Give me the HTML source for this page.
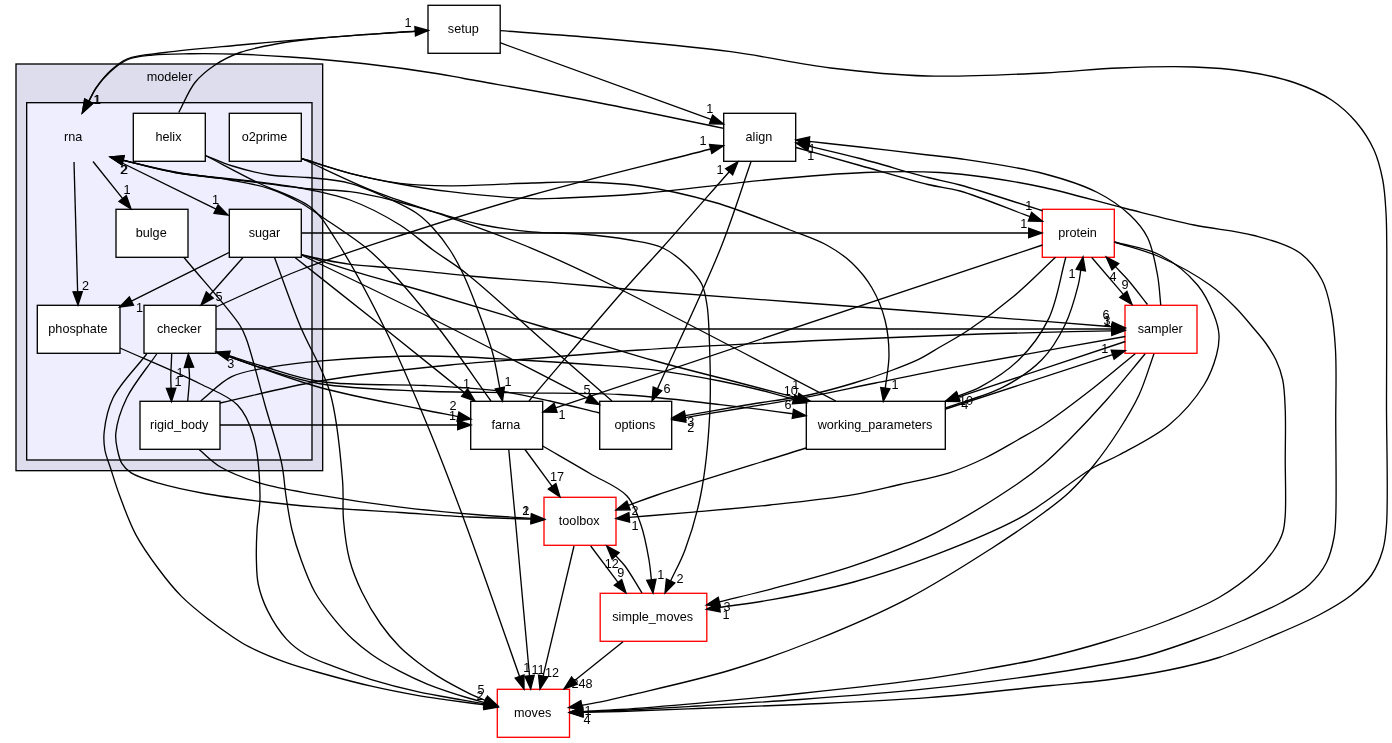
<!DOCTYPE html>
<html><head><meta charset="utf-8"><title>modeler/rna</title>
<style>html,body{margin:0;padding:0;background:#fff;}svg{display:block;will-change:transform;}text{font-family:"Liberation Sans",sans-serif;font-size:13.33px;fill:#000;}.e path{fill:none;stroke:#000;stroke-width:1.33;}.e polygon{fill:#000;stroke:#000;stroke-width:1.33;}</style></head><body>
<svg width="1392" height="743" viewBox="0 0 1392 743">
<rect x="0" y="0" width="1392" height="743" fill="#fff"/>
<rect x="16" y="64" width="306.67" height="406.67" fill="#ddddee" stroke="#000" stroke-width="1.33"/>
<text transform="translate(169.5,80.8) scale(0.950,1)" text-anchor="middle">modeler</text>
<rect x="26.67" y="102.67" width="285.33" height="357.33" fill="#eeeeff" stroke="#000" stroke-width="1.33"/>
<text transform="translate(73.1,140.7) scale(0.950,1)" text-anchor="middle">rna</text>
<rect x="428.0" y="5.3" width="72.2" height="48.0" fill="#fff" stroke="black" stroke-width="1.33"/>
<text transform="translate(463.3,32.8) scale(0.950,1)" text-anchor="middle">setup</text>
<rect x="133.3" y="113.3" width="72.0" height="48.0" fill="#fff" stroke="black" stroke-width="1.33"/>
<text transform="translate(168.5,140.8) scale(0.950,1)" text-anchor="middle">helix</text>
<rect x="229.3" y="113.3" width="72.0" height="48.0" fill="#fff" stroke="black" stroke-width="1.33"/>
<text transform="translate(264.5,140.8) scale(0.950,1)" text-anchor="middle">o2prime</text>
<rect x="116.0" y="209.3" width="72.0" height="48.0" fill="#fff" stroke="black" stroke-width="1.33"/>
<text transform="translate(151.2,236.8) scale(0.950,1)" text-anchor="middle">bulge</text>
<rect x="229.3" y="209.3" width="72.0" height="48.0" fill="#fff" stroke="black" stroke-width="1.33"/>
<text transform="translate(264.5,236.8) scale(0.950,1)" text-anchor="middle">sugar</text>
<rect x="37.3" y="305.3" width="82.7" height="48.0" fill="#fff" stroke="black" stroke-width="1.33"/>
<text transform="translate(77.9,332.8) scale(0.950,1)" text-anchor="middle">phosphate</text>
<rect x="144.0" y="305.3" width="72.0" height="48.0" fill="#fff" stroke="black" stroke-width="1.33"/>
<text transform="translate(179.2,332.8) scale(0.950,1)" text-anchor="middle">checker</text>
<rect x="140.0" y="401.3" width="80.0" height="48.0" fill="#fff" stroke="black" stroke-width="1.33"/>
<text transform="translate(179.2,428.8) scale(0.950,1)" text-anchor="middle">rigid_body</text>
<rect x="470.7" y="401.3" width="72.0" height="48.0" fill="#fff" stroke="black" stroke-width="1.33"/>
<text transform="translate(505.9,428.8) scale(0.950,1)" text-anchor="middle">farna</text>
<rect x="599.7" y="401.3" width="72.0" height="48.0" fill="#fff" stroke="black" stroke-width="1.33"/>
<text transform="translate(634.9,428.8) scale(0.950,1)" text-anchor="middle">options</text>
<rect x="806.3" y="401.3" width="139.0" height="48.0" fill="#fff" stroke="black" stroke-width="1.33"/>
<text transform="translate(875.0,428.8) scale(0.950,1)" text-anchor="middle">working_parameters</text>
<rect x="723.7" y="113.3" width="72.0" height="48.0" fill="#fff" stroke="black" stroke-width="1.33"/>
<text transform="translate(758.9,140.8) scale(0.950,1)" text-anchor="middle">align</text>
<rect x="1042.3" y="209.3" width="72.0" height="48.0" fill="#fff" stroke="red" stroke-width="1.33"/>
<text transform="translate(1077.5,236.8) scale(0.950,1)" text-anchor="middle">protein</text>
<rect x="1125.0" y="305.3" width="72.0" height="48.0" fill="#fff" stroke="red" stroke-width="1.33"/>
<text transform="translate(1160.2,332.8) scale(0.950,1)" text-anchor="middle">sampler</text>
<rect x="544.0" y="497.3" width="72.0" height="48.0" fill="#fff" stroke="red" stroke-width="1.33"/>
<text transform="translate(579.2,524.8) scale(0.950,1)" text-anchor="middle">toolbox</text>
<rect x="600.2" y="593.3" width="106.6" height="48.0" fill="#fff" stroke="red" stroke-width="1.33"/>
<text transform="translate(652.7,620.8) scale(0.950,1)" text-anchor="middle">simple_moves</text>
<rect x="497.3" y="689.3" width="72.2" height="48.0" fill="#fff" stroke="red" stroke-width="1.33"/>
<text transform="translate(532.6,716.8) scale(0.950,1)" text-anchor="middle">moves</text>
<g class="e">
<!-- rna_phosphate -->
<path d="M74.00,162.00 L77.63,291.71"/>
<polygon points="73.0,291.8 78.0,305.0 82.3,291.6"/>
<!-- rna_bulge -->
<path d="M93.00,161.50 L122.69,198.61"/>
<polygon points="119.0,201.5 131.0,209.0 126.3,195.7"/>
<!-- rna_sugar -->
<path d="M110.00,157.00 L216.06,209.13"/>
<polygon points="214.0,213.3 228.0,215.0 218.1,204.9"/>
<!-- sugar_phosphate -->
<path d="M229.00,252.50 L131.41,301.07"/>
<polygon points="129.3,296.9 119.5,307.0 133.5,305.3"/>
<!-- sugar_checker -->
<path d="M243.00,257.50 L209.81,295.04"/>
<polygon points="206.3,291.9 201.0,305.0 213.3,298.1"/>
<!-- checker_rigid -->
<path d="M171.70,354.00 C171.40,362.00 170.82,371.68 170.80,378.00 C170.78,382.12 171.00,384.80 171.10,388.21"/>
<polygon points="166.4,388.3 171.5,401.5 175.8,388.1"/>
<!-- rigid_checker -->
<path d="M187.70,401.00 C188.30,393.33 189.41,384.22 189.50,378.00 C189.56,373.76 189.14,370.86 188.96,367.28"/>
<polygon points="193.6,367.1 188.3,354.0 184.3,367.5"/>
<!-- rigid_farna -->
<path d="M220.00,425.00 L457.70,425.00"/>
<polygon points="457.7,429.7 471.0,425.0 457.7,420.3"/>
<!-- checker_farna -->
<path d="M216.00,352.00 C250.67,363.83 285.39,377.91 320.00,387.50 C353.39,396.75 394.57,403.72 420.00,409.00 C435.64,412.25 445.31,414.06 457.96,416.59"/>
<polygon points="457.0,421.2 471.0,419.2 458.9,412.0"/>
<!-- setup_rna -->
<path d="M428.00,30.80 C423.67,30.95 420.74,30.95 415.00,31.25 C403.74,31.83 381.67,33.51 365.00,34.70 C348.33,35.89 333.34,36.91 315.00,38.40 C292.52,40.22 264.99,42.65 240.00,45.00 C214.99,47.35 185.67,49.75 165.00,52.50 C150.32,54.46 137.19,54.79 127.50,58.75 C120.38,61.66 115.79,65.85 110.70,70.50 C105.42,75.31 100.31,81.77 96.50,87.30 C93.25,92.01 91.34,96.62 88.77,101.28"/>
<polygon points="84.7,99.0 82.3,112.9 92.8,103.5"/>
<!-- align_rna -->
<path d="M723.70,128.30 C682.47,119.87 642.26,111.13 600.00,103.00 C555.79,94.50 491.58,83.50 464.00,78.50 C451.94,76.31 448.88,75.49 438.00,73.75 C419.84,70.85 389.53,66.53 365.00,63.75 C340.20,60.94 312.49,58.63 290.00,57.00 C271.66,55.67 256.67,54.79 240.00,54.25 C223.34,53.71 205.47,53.57 190.00,53.75 C176.60,53.91 163.64,53.80 152.50,55.00 C143.43,55.98 135.25,56.48 128.00,59.50 C121.20,62.33 115.36,67.20 110.00,72.00 C104.72,76.72 99.69,82.71 96.00,88.00 C92.89,92.46 91.18,96.85 88.77,101.28"/>
<polygon points="84.7,99.0 82.3,112.9 92.8,103.5"/>
<!-- helix_setup -->
<path d="M178.75,112.50 C184.17,102.50 188.45,90.70 195.00,82.50 C200.78,75.26 207.61,69.96 215.00,65.00 C222.58,59.91 230.60,55.89 240.00,52.50 C251.03,48.52 264.94,46.05 277.50,43.75 C289.95,41.47 301.58,40.21 315.00,38.75 C330.45,37.06 348.31,35.74 365.00,34.50 C381.72,33.26 398.48,32.39 415.23,31.34"/>
<polygon points="415.5,36.0 428.5,30.5 414.9,26.7"/>
<!-- setup_align -->
<path d="M500.00,42.70 L711.00,119.45"/>
<polygon points="709.4,123.8 723.5,124.0 712.6,115.1"/>
<!-- checker_align -->
<path d="M216.00,307.00 C244.00,294.67 269.98,281.73 300.00,270.00 C333.48,256.92 370.68,245.12 408.00,233.00 C447.74,220.09 486.51,207.74 531.70,195.00 C585.69,179.78 650.98,164.34 710.62,149.01"/>
<polygon points="711.8,153.5 723.5,145.7 709.5,144.5"/>
<!-- farna_align -->
<path d="M529.00,401.00 C561.83,362.67 602.71,314.08 627.50,286.00 C642.13,269.43 649.41,262.19 663.00,247.00 C681.74,226.06 707.15,196.79 729.22,171.69"/>
<polygon points="732.7,174.8 738.0,161.7 725.7,168.6"/>
<!-- align_options -->
<path d="M751.00,161.70 C740.90,190.47 733.46,216.03 720.70,248.00 C704.11,289.54 678.53,341.91 657.45,388.87"/>
<polygon points="653.2,387.0 652.0,401.0 661.7,390.8"/>
<!-- sampler_align -->
<path d="M1160.75,305.00 C1159.67,295.00 1159.45,285.48 1157.50,275.00 C1155.29,263.12 1152.70,247.98 1147.50,237.50 C1143.04,228.52 1137.38,221.98 1130.00,215.00 C1121.31,206.78 1110.18,198.96 1097.50,192.50 C1082.31,184.76 1064.07,179.02 1044.00,173.75 C1019.37,167.28 981.41,161.91 960.00,158.75 C946.84,156.81 940.65,156.49 928.00,155.00 C909.55,152.83 881.02,149.39 860.00,147.00 C841.84,144.94 826.15,143.30 809.22,141.45"/>
<polygon points="809.7,136.8 796.0,140.0 808.7,146.1"/>
<!-- protein_align -->
<path d="M1042.50,210.75 C1015.00,202.17 981.19,190.78 960.00,185.00 C946.93,181.43 940.61,180.74 928.00,177.50 C909.51,172.75 881.09,164.00 860.00,158.50 C841.80,153.76 825.95,150.25 808.93,146.13"/>
<polygon points="810.0,141.6 796.0,143.0 807.8,150.7"/>
<!-- align_protein -->
<path d="M796.00,147.50 C817.33,153.50 838.34,159.43 860.00,165.50 C882.32,171.76 909.49,180.04 928.00,184.50 C940.59,187.53 947.43,187.44 960.00,191.00 C978.99,196.38 1006.68,208.11 1030.01,216.67"/>
<polygon points="1028.4,221.1 1042.5,221.2 1031.6,212.3"/>
<!-- o2prime_B_moves -->
<path d="M301.50,158.50 C317.67,163.43 333.62,169.06 350.00,173.30 C366.45,177.56 383.29,180.93 400.00,184.00 C416.62,187.06 431.26,189.46 450.00,191.70 C473.86,194.56 510.66,198.03 531.70,198.70 C544.91,199.12 550.97,198.51 564.00,198.00 C584.00,197.22 611.57,196.11 640.00,193.75 C676.55,190.72 725.63,183.64 765.00,180.00 C800.16,176.75 834.04,173.66 865.00,172.50 C891.77,171.50 917.87,171.34 940.00,172.50 C957.66,173.43 971.02,175.18 987.50,177.50 C1005.56,180.05 1023.48,183.05 1044.00,187.50 C1069.00,192.92 1100.35,202.24 1126.50,208.75 C1150.10,214.63 1172.09,220.45 1194.00,225.00 C1214.52,229.26 1235.55,230.43 1254.00,235.50 C1270.59,240.06 1288.26,244.52 1300.00,253.00 C1309.88,260.13 1316.81,270.21 1322.00,280.00 C1326.92,289.29 1328.79,299.17 1331.00,310.00 C1333.51,322.27 1334.62,334.79 1335.50,350.00 C1336.66,370.06 1335.70,394.74 1335.75,420.00 C1335.80,449.81 1336.63,497.25 1335.75,517.50 C1335.35,526.69 1335.34,530.53 1334.00,537.50 C1332.48,545.44 1330.51,554.73 1326.50,562.50 C1322.31,570.62 1316.16,578.49 1309.00,585.00 C1301.35,591.96 1291.57,596.98 1281.50,602.50 C1270.15,608.73 1257.49,614.16 1244.00,620.00 C1228.62,626.66 1210.77,633.93 1194.00,640.00 C1177.43,646.00 1160.80,651.86 1144.00,656.25 C1127.46,660.58 1110.70,663.25 1094.00,666.25 C1077.36,669.24 1064.15,671.38 1044.00,674.25 C1013.38,678.61 967.66,684.56 928.00,688.70 C886.43,693.04 840.37,696.52 800.00,699.50 C763.82,702.17 728.84,704.06 697.00,706.00 C669.47,707.67 641.06,709.47 620.00,710.50 C605.37,711.22 595.19,711.48 582.79,711.97"/>
<polygon points="582.6,707.3 569.5,712.5 583.0,716.6"/>
<!-- o2prime_A_wp -->
<path d="M301.50,158.50 C317.67,163.43 333.61,169.17 350.00,173.30 C366.44,177.44 383.26,181.22 400.00,183.30 C416.59,185.36 431.29,185.65 450.00,185.80 C473.90,185.99 508.02,183.65 531.70,183.00 C549.90,182.50 563.04,181.61 580.00,182.00 C598.93,182.43 619.00,183.01 640.00,186.00 C663.73,189.38 690.24,195.27 715.00,202.50 C740.25,209.87 769.36,221.95 790.00,230.00 C804.71,235.74 816.62,239.47 827.50,245.50 C836.87,250.69 844.67,256.06 852.00,263.00 C859.56,270.16 866.56,278.72 872.00,288.00 C877.65,297.64 882.17,308.89 885.00,320.00 C887.86,331.22 888.99,343.49 889.00,355.00 C889.01,366.20 886.52,377.10 885.28,388.15"/>
<polygon points="880.7,387.5 883.3,401.3 889.9,388.8"/>
<!-- o2prime_C -->
<path d="M301.50,158.50 C326.00,169.57 350.14,181.84 375.00,191.70 C399.65,201.48 424.53,208.32 450.00,217.50 C476.72,227.13 504.74,237.03 531.70,248.30 C558.91,259.68 579.10,269.18 612.50,285.50 C668.65,312.93 761.37,362.50 835.80,401.00"/>
<!-- helix_farna -->
<path d="M205.50,155.50 C214.50,159.00 222.65,162.92 232.50,166.00 C243.87,169.56 257.42,173.08 270.00,175.00 C282.42,176.89 294.63,176.19 307.50,177.50 C321.25,178.89 336.12,179.63 350.00,183.30 C364.20,187.05 379.70,194.42 391.70,200.00 C401.23,204.43 409.52,208.26 416.70,213.30 C423.02,217.73 427.75,222.34 433.00,228.00 C438.90,234.37 444.97,242.32 450.00,250.00 C454.96,257.57 458.96,265.30 463.00,273.70 C467.34,282.72 470.79,291.51 475.00,302.50 C480.48,316.81 488.25,337.13 492.50,352.50 C496.02,365.21 497.38,376.15 499.81,387.97"/>
<polygon points="495.2,388.9 502.5,401.0 504.4,387.0"/>
<!-- helix_moves -->
<path d="M205.50,155.50 C222.83,164.50 239.95,173.85 257.50,182.50 C275.12,191.19 297.44,196.62 311.00,207.50 C322.30,216.57 326.87,226.05 336.00,240.00 C350.37,261.95 369.87,298.39 385.00,329.00 C400.41,360.19 414.34,393.75 427.50,425.50 C440.09,455.88 449.70,481.06 462.50,515.50 C479.52,561.30 500.54,622.81 519.56,676.46"/>
<polygon points="515.2,678.0 524.0,689.0 524.0,674.9"/>
<!-- rna_simple_moves -->
<path d="M110.20,157.00 C131.80,162.17 152.87,168.52 175.00,172.50 C197.77,176.59 222.33,178.22 245.00,181.00 C266.43,183.63 288.65,186.93 307.50,188.75 C323.01,190.25 335.96,189.82 350.00,191.70 C364.03,193.57 377.90,196.68 391.70,200.00 C405.57,203.34 418.56,207.73 433.00,211.70 C448.85,216.05 466.34,221.63 483.00,225.00 C499.24,228.28 515.47,230.30 531.70,231.80 C547.80,233.29 563.79,232.66 580.00,234.00 C596.55,235.37 615.13,237.31 630.00,240.00 C642.21,242.20 653.18,243.38 663.00,248.00 C672.42,252.43 681.24,260.13 688.00,266.70 C693.68,272.23 698.53,277.58 701.70,284.00 C704.84,290.36 705.79,297.57 707.00,305.00 C708.33,313.15 708.53,319.86 709.00,331.00 C709.85,350.96 711.12,387.13 709.70,414.70 C708.30,441.79 705.45,470.94 700.70,495.00 C696.70,515.25 690.78,534.48 685.00,550.00 C680.53,561.99 675.41,570.63 670.61,580.94"/>
<polygon points="666.4,579.0 665.0,593.0 674.8,582.9"/>
<!-- options_rna -->
<path d="M612.00,401.00 C588.00,380.00 564.10,359.11 540.00,338.00 C515.67,316.68 486.80,289.51 466.70,273.70 C453.64,263.42 444.10,258.11 433.00,250.00 C421.87,241.87 412.55,232.80 400.00,225.00 C385.42,215.94 367.03,206.21 350.00,200.00 C333.67,194.05 316.74,191.17 300.00,188.00 C283.41,184.86 268.37,183.33 250.00,181.00 C227.54,178.16 197.60,176.45 175.00,172.50 C156.01,169.18 140.41,164.29 123.11,160.18"/>
<polygon points="124.2,155.6 110.2,157.0 122.0,164.7"/>
<!-- farna_rna -->
<path d="M491.00,401.00 C474.00,377.33 457.05,352.01 440.00,330.00 C424.38,309.84 406.76,288.50 393.00,273.70 C383.28,263.25 377.02,256.82 366.70,248.30 C354.04,237.85 334.05,225.07 321.70,216.70 C313.22,210.95 308.00,206.92 300.00,202.50 C290.98,197.52 280.93,192.40 270.00,188.75 C257.82,184.68 244.44,182.63 230.00,180.00 C213.17,176.94 193.01,175.32 175.00,172.00 C157.38,168.75 140.38,164.24 123.07,160.36"/>
<polygon points="124.2,155.8 110.2,157.0 121.9,164.9"/>
<!-- sugar_protein -->
<path d="M301.50,233.00 L1028.70,233.00"/>
<polygon points="1028.7,237.7 1042.0,233.0 1028.7,228.3"/>
<!-- sugar_sampler -->
<path d="M301.60,254.70 C309.40,256.47 317.00,258.42 325.00,260.00 C333.32,261.64 341.07,263.09 350.60,264.30 C362.51,265.81 377.66,266.54 391.00,267.80 C404.12,269.04 416.54,270.41 430.00,271.80 C444.46,273.30 457.54,274.91 475.00,276.50 C499.25,278.71 533.13,280.87 562.00,283.30 C590.63,285.71 611.45,288.02 647.50,291.00 C709.41,296.12 819.51,303.79 900.00,310.00 C973.77,315.69 1041.36,321.17 1112.04,326.75"/>
<polygon points="1111.7,331.4 1125.3,327.8 1112.4,322.1"/>
<!-- sugar_wp -->
<path d="M301.60,254.70 C321.30,260.93 340.17,267.25 360.70,273.40 C382.83,280.03 404.28,285.50 430.00,293.00 C462.48,302.47 503.05,314.85 540.00,326.00 C577.57,337.34 618.23,350.53 653.60,360.50 C684.28,369.15 714.10,376.27 740.00,383.00 C761.15,388.50 778.42,392.97 797.63,397.96"/>
<polygon points="796.5,402.5 810.5,401.3 798.8,393.4"/>
<!-- sugar_options -->
<path d="M301.50,255.00 C346.00,276.67 389.13,297.06 435.00,320.00 C484.31,344.67 536.78,372.28 587.67,398.42"/>
<polygon points="585.5,402.6 599.5,404.5 589.8,394.3"/>
<!-- sugar_farna -->
<path d="M295.00,257.50 C325.00,281.25 355.96,305.60 385.00,328.75 C412.39,350.59 438.09,371.37 464.63,392.67"/>
<polygon points="461.7,396.3 475.0,401.0 467.6,389.0"/>
<!-- sugar_moves -->
<path d="M274.50,257.50 C283.00,280.17 290.78,303.06 300.00,325.50 C309.27,348.06 322.96,368.14 330.00,392.50 C337.73,419.23 340.53,456.42 342.50,480.00 C343.83,495.86 342.32,506.70 343.50,520.00 C344.68,533.37 346.31,547.58 349.60,560.00 C352.63,571.44 356.86,581.54 361.90,592.00 C367.15,602.89 374.01,614.49 380.70,624.00 C386.67,632.49 393.01,640.04 399.60,646.70 C405.62,652.79 412.02,657.76 418.40,662.70 C424.56,667.47 429.92,671.38 437.20,675.90 C446.48,681.67 461.01,689.41 470.00,693.80 C476.04,696.75 480.33,698.28 485.50,700.51"/>
<polygon points="483.6,704.8 497.7,705.8 487.4,696.2"/>
<!-- checker_sampler -->
<path d="M216.00,329.00 L1111.70,329.00"/>
<polygon points="1111.7,333.7 1125.0,329.0 1111.7,324.3"/>
<!-- checker_wp -->
<path d="M216.00,352.00 C231.33,357.33 245.69,362.95 262.00,368.00 C280.12,373.61 297.84,379.97 320.00,383.75 C348.62,388.63 386.60,389.49 420.00,391.00 C453.46,392.51 487.17,392.22 520.60,392.80 C553.83,393.38 586.86,392.55 620.00,394.50 C653.32,396.46 689.57,401.15 720.00,404.60 C745.62,407.51 783.71,412.53 790.70,413.50 C791.92,413.67 792.13,413.72 792.85,413.82"/>
<polygon points="792.2,418.4 806.0,415.8 793.5,409.2"/>
<!-- options_checker -->
<path d="M599.60,413.00 C583.07,409.00 566.07,404.59 550.00,401.00 C534.92,397.64 520.89,394.24 506.00,392.00 C490.90,389.72 474.30,388.61 460.00,387.50 C447.55,386.54 439.80,386.20 425.00,385.50 C399.38,384.28 349.63,385.97 320.00,381.50 C297.60,378.12 278.44,370.76 262.00,366.00 C249.72,362.44 233.48,357.04 230.00,356.00 C229.33,355.80 229.19,355.77 228.79,355.65"/>
<polygon points="230.1,351.2 216.0,352.0 227.5,360.1"/>
<!-- checker_toolbox -->
<path d="M156.70,354.00 C146.70,368.67 133.62,383.63 126.70,398.00 C120.93,409.97 116.76,423.63 115.80,433.30 C115.15,439.82 116.39,444.77 117.50,450.00 C118.53,454.85 119.61,459.82 122.00,463.70 C124.27,467.39 126.92,470.14 131.20,472.90 C137.61,477.03 148.18,480.09 158.60,483.20 C171.80,487.14 188.22,490.55 204.40,493.50 C222.35,496.77 242.51,499.21 261.60,501.50 C280.64,503.78 298.05,505.49 318.80,507.20 C343.49,509.24 373.94,510.81 400.00,512.50 C424.20,514.07 447.44,515.88 470.00,517.00 C491.08,518.05 510.81,518.42 531.21,519.14"/>
<polygon points="531.0,523.8 544.5,519.6 531.4,514.5"/>
<!-- checker_moves -->
<path d="M146.70,354.00 C135.47,368.67 120.03,383.61 113.00,398.00 C107.43,409.41 105.25,422.10 104.20,431.70 C103.44,438.66 103.86,443.97 104.90,450.00 C105.96,456.17 108.45,461.59 110.60,468.30 C113.25,476.55 116.02,485.92 119.70,495.80 C124.13,507.70 129.28,522.35 135.80,534.60 C142.26,546.74 150.69,558.39 158.60,569.00 C165.96,578.87 173.13,587.95 181.50,596.40 C189.92,604.89 200.32,612.99 209.00,619.80 C216.35,625.57 223.11,630.37 230.00,635.00 C236.36,639.28 241.27,642.79 248.80,646.70 C259.04,652.02 273.81,658.12 286.50,662.70 C298.94,667.19 310.90,670.29 324.20,674.00 C338.99,678.13 355.55,682.59 371.30,686.20 C386.95,689.79 404.66,693.21 418.40,695.60 C429.00,697.44 436.57,698.36 446.70,699.80 C458.41,701.46 471.96,703.22 484.60,704.93"/>
<polygon points="483.8,709.5 497.7,707.2 485.4,700.3"/>
<!-- rigid_sampler -->
<path d="M220.00,403.00 C253.33,395.67 284.33,387.10 320.00,381.00 C360.34,374.10 409.74,369.02 450.00,365.00 C484.79,361.52 515.43,360.03 547.50,357.50 C578.74,355.03 603.66,352.43 640.00,350.00 C692.04,346.52 769.63,342.79 830.00,340.00 C884.95,337.46 938.11,335.31 987.50,333.75 C1031.35,332.36 1070.30,331.79 1111.70,330.81"/>
<polygon points="1111.8,335.5 1125.0,330.5 1111.6,326.1"/>
<!-- rigid_wp -->
<path d="M200.80,401.00 C211.10,392.90 219.94,382.40 231.70,376.70 C243.97,370.75 258.83,369.31 273.30,366.70 C288.75,363.91 302.51,362.41 321.70,360.80 C349.65,358.45 391.29,356.07 425.00,356.00 C457.33,355.93 490.75,358.44 520.00,360.00 C545.12,361.34 567.23,362.82 590.00,364.50 C611.72,366.10 632.23,367.11 653.60,369.80 C675.55,372.56 700.70,377.20 720.00,381.00 C735.06,383.96 747.28,386.82 760.00,390.00 C771.74,392.94 782.45,396.18 793.68,399.27"/>
<polygon points="792.4,403.8 806.5,402.8 794.9,394.8"/>
<!-- rigid_toolbox -->
<path d="M199.10,449.60 C206.40,455.50 212.10,462.08 221.00,467.30 C232.13,473.83 247.06,479.29 261.90,483.70 C278.58,488.66 296.41,491.09 316.50,494.60 C341.00,498.88 371.06,503.50 398.40,506.90 C425.66,510.29 456.21,513.02 480.30,515.00 C499.27,516.56 514.25,517.22 531.23,518.33"/>
<polygon points="530.9,523.0 544.5,519.2 531.5,513.7"/>
<!-- bulge_moves -->
<path d="M184.00,257.50 C202.67,280.17 230.75,310.77 240.00,325.50 C243.94,331.77 244.23,333.30 246.70,340.00 C251.79,353.78 259.03,383.89 265.00,405.00 C270.68,425.07 278.22,446.93 281.70,463.70 C284.25,475.96 284.32,485.11 286.00,496.00 C287.73,507.21 289.38,519.10 292.00,530.00 C294.50,540.39 297.53,549.94 301.20,560.00 C305.06,570.59 309.27,582.12 314.80,592.00 C320.14,601.54 327.07,610.32 333.60,618.40 C339.67,625.92 345.96,632.96 352.50,639.10 C358.56,644.79 364.21,649.25 371.30,654.20 C379.60,659.99 390.04,666.13 399.60,671.20 C408.88,676.12 417.33,680.12 427.80,684.30 C440.33,689.30 459.46,695.33 470.00,698.50 C476.21,700.37 479.97,701.16 484.96,702.49"/>
<polygon points="483.6,707.0 497.7,706.3 486.3,698.0"/>
<!-- phosphate_moves -->
<path d="M120.00,348.00 C146.67,359.92 178.53,372.90 200.00,383.75 C215.06,391.36 228.53,395.71 237.50,405.00 C245.41,413.19 249.30,422.61 253.00,434.70 C258.03,451.10 259.78,478.55 260.00,496.00 C260.17,508.98 257.59,519.01 257.00,530.00 C256.44,540.30 256.13,550.51 256.40,560.00 C256.65,568.59 256.55,576.30 258.30,584.50 C260.16,593.26 263.35,602.22 267.70,610.90 C272.49,620.45 279.59,631.57 286.50,639.10 C292.34,645.47 298.14,649.84 305.40,654.20 C313.58,659.12 323.44,662.43 333.60,666.40 C345.18,670.93 357.95,675.53 371.30,679.60 C386.04,684.10 402.97,688.48 418.40,691.90 C433.07,695.15 449.53,697.60 461.70,699.80 C470.57,701.41 477.04,702.56 484.71,703.94"/>
<polygon points="483.7,708.5 497.7,706.8 485.7,699.4"/>
<!-- farna_moves -->
<path d="M508.75,449.50 C510.83,471.50 512.52,488.70 515.00,515.50 C518.87,557.26 524.67,622.34 529.50,675.75"/>
<polygon points="524.9,676.2 530.7,689.0 534.2,675.3"/>
<!-- farna_toolbox -->
<path d="M525.00,449.50 L552.11,486.29"/>
<polygon points="548.4,489.1 560.0,497.0 555.9,483.5"/>
<!-- farna_simple_moves -->
<path d="M542.70,446.00 C558.47,455.17 575.24,464.72 590.00,473.50 C603.13,481.31 618.38,486.51 627.00,496.00 C634.43,504.19 637.37,514.66 641.00,525.00 C644.83,535.92 647.25,549.94 649.00,560.00 C650.31,567.49 650.60,573.20 651.40,579.80"/>
<polygon points="646.8,580.4 653.0,593.0 656.0,579.2"/>
<!-- wp_toolbox -->
<path d="M806.00,448.00 C756.33,463.67 687.16,484.73 657.00,495.00 C643.71,499.53 637.99,501.95 628.49,505.43"/>
<polygon points="626.9,501.0 616.0,510.0 630.1,509.8"/>
<!-- wp_sampler -->
<path d="M945.70,409.00 L1112.65,354.71"/>
<polygon points="1114.1,359.2 1125.3,350.6 1111.2,350.3"/>
<!-- wp_protein -->
<path d="M945.70,407.80 C964.80,400.93 986.27,395.91 1003.00,387.20 C1017.78,379.51 1031.32,370.56 1041.80,359.80 C1051.56,349.78 1058.64,337.90 1064.70,325.50 C1070.92,312.78 1075.85,294.53 1078.40,284.30 C1079.87,278.41 1079.99,274.84 1080.79,270.12"/>
<polygon points="1085.4,270.9 1083.0,257.0 1076.2,269.3"/>
<!-- sampler_wp -->
<path d="M1125.30,341.50 L958.32,397.10"/>
<polygon points="956.8,392.7 945.7,401.3 959.8,401.5"/>
<!-- sampler_options -->
<path d="M1125.30,336.50 C1070.20,346.40 1005.91,357.51 960.00,366.20 C927.12,372.42 901.77,377.68 875.50,383.00 C852.51,387.65 832.47,392.21 810.90,396.30 C789.37,400.38 767.46,403.91 746.20,407.50 C725.56,410.98 705.48,414.19 685.12,417.54"/>
<polygon points="684.4,412.9 672.0,419.7 685.9,422.2"/>
<!-- sampler_toolbox -->
<path d="M1135.20,353.70 C1121.47,364.97 1108.55,376.16 1094.00,387.50 C1078.28,399.75 1058.24,415.09 1044.00,424.50 C1034.01,431.10 1026.90,434.70 1017.60,440.00 C1007.34,445.84 996.27,452.57 985.00,458.00 C973.52,463.53 962.34,468.58 949.30,472.80 C934.37,477.63 916.18,480.81 900.00,484.50 C884.37,488.06 871.56,491.56 853.80,494.60 C830.07,498.66 797.63,502.03 770.00,505.00 C743.05,507.90 714.84,510.13 690.00,512.30 C668.36,514.19 649.50,515.69 629.25,517.39"/>
<polygon points="628.9,512.7 616.0,518.5 629.6,522.0"/>
<!-- sampler_simple_moves -->
<path d="M1145.20,353.70 C1132.30,369.13 1119.51,385.31 1106.50,400.00 C1094.10,414.01 1080.39,428.54 1069.00,440.00 C1059.97,449.09 1052.66,456.40 1044.00,463.75 C1035.52,470.95 1029.09,475.94 1017.60,483.70 C998.07,496.88 963.56,518.98 935.70,532.80 C908.92,546.09 881.35,556.21 853.80,565.60 C826.74,574.82 796.24,582.35 771.90,588.80 C752.48,593.95 736.84,597.47 719.31,601.81"/>
<polygon points="718.2,597.3 706.4,605.0 720.4,606.3"/>
<!-- sampler_moves -->
<path d="M1154.00,353.70 C1149.00,367.47 1145.00,382.04 1139.00,395.00 C1133.25,407.41 1126.36,418.52 1119.00,430.00 C1111.40,441.86 1102.66,454.27 1094.00,465.00 C1085.95,474.98 1077.67,484.36 1069.00,492.50 C1060.95,500.05 1054.08,505.04 1044.00,512.50 C1029.64,523.13 1010.29,536.39 990.30,549.20 C966.07,564.72 937.01,583.36 908.40,598.30 C878.87,613.72 846.09,627.79 815.60,640.00 C786.91,651.49 760.38,661.07 730.70,670.00 C698.95,679.56 653.97,689.42 630.70,695.00 C618.26,697.99 610.76,699.81 602.00,701.60 C594.67,703.10 588.46,704.03 581.69,705.25"/>
<polygon points="580.9,700.7 568.6,707.6 582.5,709.8"/>
<!-- sampler_protein -->
<path d="M1147.50,304.50 C1141.00,296.33 1133.93,286.83 1128.00,280.00 C1123.46,274.77 1119.59,271.11 1115.39,266.66"/>
<polygon points="1118.8,263.5 1106.2,257.0 1112.0,269.9"/>
<!-- protein_sampler -->
<path d="M1091.75,257.50 L1123.35,294.40"/>
<polygon points="1119.8,297.4 1132.0,304.5 1126.9,291.4"/>
<!-- protein_farna -->
<path d="M1042.50,245.00 L555.61,407.78"/>
<polygon points="554.1,403.4 543.0,412.0 557.1,412.2"/>
<!-- protein_options -->
<path d="M1055.50,257.30 C1041.80,270.10 1028.82,283.63 1014.40,295.70 C999.86,307.87 982.30,320.84 968.60,330.00 C958.15,336.99 948.86,341.80 940.00,347.00 C932.36,351.48 926.40,355.58 918.60,359.40 C909.89,363.66 900.14,367.26 890.00,371.00 C878.75,375.15 866.60,379.22 854.00,383.00 C840.34,387.10 826.81,391.09 810.90,394.50 C791.61,398.63 767.45,401.41 746.20,405.00 C725.53,408.49 705.47,412.14 685.10,415.70"/>
<polygon points="684.3,411.1 672.0,418.0 685.9,420.3"/>
<!-- protein_wp -->
<path d="M1065.80,257.30 C1060.10,277.73 1057.26,300.84 1048.70,318.60 C1041.05,334.47 1030.60,348.25 1018.90,359.80 C1007.58,370.97 991.45,380.97 980.00,387.20 C971.92,391.59 965.36,393.09 958.04,396.04"/>
<polygon points="956.3,391.7 945.7,401.0 959.8,400.4"/>
<!-- protein_simple_moves -->
<path d="M1114.50,242.00 C1129.67,246.33 1146.21,247.88 1160.00,255.00 C1173.89,262.17 1188.25,274.00 1197.50,285.00 C1205.31,294.29 1210.39,305.79 1214.00,315.00 C1216.80,322.14 1218.60,328.30 1219.00,335.00 C1219.40,341.63 1218.41,347.80 1216.50,355.00 C1214.07,364.14 1210.34,374.81 1204.00,385.00 C1195.89,398.03 1182.74,413.52 1169.00,425.00 C1154.61,437.03 1133.32,447.14 1119.00,455.00 C1108.60,460.71 1101.65,462.66 1091.50,468.75 C1077.53,477.14 1057.63,493.36 1044.00,502.50 C1034.02,509.20 1029.13,513.10 1017.60,519.20 C998.11,529.51 963.23,544.17 935.70,554.70 C908.62,565.06 881.31,574.47 853.80,582.00 C826.70,589.42 796.22,595.29 771.90,599.70 C752.57,603.20 737.01,604.81 719.56,607.37"/>
<polygon points="718.9,602.8 706.4,609.3 720.2,612.0"/>
<!-- protein_moves -->
<path d="M1114.50,242.00 C1129.67,247.00 1144.80,250.31 1160.00,257.00 C1176.63,264.31 1196.59,275.50 1210.00,285.00 C1220.22,292.24 1227.56,299.55 1235.00,307.00 C1241.73,313.74 1247.54,321.04 1253.00,327.50 C1257.74,333.12 1262.12,337.99 1266.00,343.50 C1269.76,348.83 1273.24,354.07 1276.00,360.00 C1278.88,366.20 1281.21,372.56 1282.75,380.00 C1284.59,388.89 1284.78,398.72 1285.25,410.00 C1285.85,424.54 1285.25,442.94 1285.25,460.00 C1285.25,477.90 1286.19,501.80 1285.25,515.00 C1284.72,522.48 1284.53,526.81 1282.75,532.50 C1280.88,538.49 1277.88,544.22 1274.00,550.00 C1269.48,556.74 1263.89,563.22 1256.50,570.00 C1246.72,578.97 1232.87,589.42 1219.00,597.50 C1203.94,606.28 1186.77,613.00 1169.00,620.00 C1149.50,627.68 1127.44,634.89 1106.50,641.25 C1085.77,647.54 1063.68,653.47 1044.00,658.00 C1026.67,661.99 1012.39,664.31 994.70,667.50 C974.16,671.20 953.88,675.03 928.00,678.70 C892.28,683.76 840.37,689.25 800.00,693.50 C763.82,697.31 728.85,700.50 697.00,703.30 C669.48,705.72 641.06,708.07 620.00,709.50 C605.37,710.49 595.19,710.88 582.78,711.56"/>
<polygon points="582.5,706.9 569.5,712.3 583.0,716.2"/>
<!-- setup_moves -->
<path d="M500.20,30.70 C532.47,33.13 562.16,34.90 597.00,38.00 C638.00,41.65 689.44,46.23 730.70,51.70 C766.53,56.45 797.60,63.93 830.70,68.00 C863.02,71.97 893.31,75.04 927.00,76.00 C964.08,77.06 1009.33,74.60 1044.00,73.00 C1071.78,71.72 1093.99,69.00 1119.00,68.00 C1143.99,67.00 1171.54,66.20 1194.00,67.00 C1212.37,67.66 1227.42,68.69 1244.00,71.25 C1260.76,73.83 1278.78,77.31 1294.00,82.50 C1307.67,87.17 1320.71,92.86 1331.50,100.00 C1341.23,106.44 1349.38,114.09 1356.50,122.50 C1363.51,130.78 1369.61,140.30 1374.00,150.00 C1378.30,159.49 1380.75,169.71 1382.75,180.00 C1384.79,190.53 1385.32,201.27 1386.00,212.50 C1386.73,224.54 1386.64,233.33 1386.80,250.00 C1387.12,283.33 1386.55,352.28 1386.50,400.00 C1386.46,443.56 1388.42,499.29 1386.50,525.00 C1385.64,536.56 1385.15,541.83 1382.75,550.00 C1380.25,558.51 1376.65,567.54 1371.50,575.00 C1366.27,582.57 1359.40,588.76 1351.50,595.00 C1342.33,602.25 1331.23,608.52 1319.00,615.00 C1304.34,622.77 1285.74,630.39 1269.00,637.50 C1252.41,644.55 1235.85,652.05 1219.00,657.50 C1202.51,662.83 1186.68,666.38 1169.00,670.00 C1149.41,674.01 1126.71,677.38 1106.50,680.00 C1087.62,682.45 1073.49,683.31 1051.50,685.50 C1018.55,688.78 969.57,694.54 928.00,697.70 C885.75,700.91 840.36,702.64 800.00,704.50 C763.81,706.16 728.84,707.26 697.00,708.50 C669.47,709.57 641.05,710.84 620.00,711.50 C605.37,711.96 595.20,712.09 582.80,712.38"/>
<polygon points="582.7,707.7 569.5,712.7 582.9,717.1"/>
<!-- toolbox_simple_moves -->
<path d="M590.70,546.00 L618.01,582.37"/>
<polygon points="614.3,585.2 626.0,593.0 621.7,579.6"/>
<!-- simple_moves_toolbox -->
<path d="M642.00,593.00 C636.33,584.00 630.10,572.68 625.00,566.00 C621.65,561.60 618.79,559.21 615.68,555.81"/>
<polygon points="619.1,552.7 606.7,546.0 612.2,559.0"/>
<!-- toolbox_moves -->
<path d="M574.00,546.00 L543.08,676.06"/>
<polygon points="538.5,675.0 540.0,689.0 547.6,677.1"/>
<!-- simple_moves_moves -->
<path d="M623.00,641.70 L574.38,680.68"/>
<polygon points="571.5,677.0 564.0,689.0 577.3,684.3"/>
</g>
<text transform="translate(96.8,104.0) scale(0.950,1)" text-anchor="middle">1</text>
<text transform="translate(97.6,104.0) scale(0.950,1)" text-anchor="middle">1</text>
<text transform="translate(408.0,27.3) scale(0.950,1)" text-anchor="middle">1</text>
<text transform="translate(127.0,193.6) scale(0.950,1)" text-anchor="middle">1</text>
<text transform="translate(215.5,203.6) scale(0.950,1)" text-anchor="middle">1</text>
<text transform="translate(85.5,290.1) scale(0.950,1)" text-anchor="middle">2</text>
<text transform="translate(139.5,311.6) scale(0.950,1)" text-anchor="middle">1</text>
<text transform="translate(219.0,300.6) scale(0.950,1)" text-anchor="middle">5</text>
<text transform="translate(180.0,376.6) scale(0.950,1)" text-anchor="middle">1</text>
<text transform="translate(178.0,385.6) scale(0.950,1)" text-anchor="middle">1</text>
<text transform="translate(230.8,368.4) scale(0.950,1)" text-anchor="middle">3</text>
<text transform="translate(453.0,410.4) scale(0.950,1)" text-anchor="middle">2</text>
<text transform="translate(452.5,420.4) scale(0.950,1)" text-anchor="middle">1</text>
<text transform="translate(466.5,387.6) scale(0.950,1)" text-anchor="middle">1</text>
<text transform="translate(508.0,385.6) scale(0.950,1)" text-anchor="middle">1</text>
<text transform="translate(562.0,419.3) scale(0.950,1)" text-anchor="middle">1</text>
<text transform="translate(587.0,394.3) scale(0.950,1)" text-anchor="middle">5</text>
<text transform="translate(667.0,392.6) scale(0.950,1)" text-anchor="middle">6</text>
<text transform="translate(690.7,425.6) scale(0.950,1)" text-anchor="middle">3</text>
<text transform="translate(690.7,431.6) scale(0.950,1)" text-anchor="middle">2</text>
<text transform="translate(790.7,394.6) scale(0.950,1)" text-anchor="middle">10</text>
<text transform="translate(795.7,389.3) scale(0.950,1)" text-anchor="middle">1</text>
<text transform="translate(788.0,409.3) scale(0.950,1)" text-anchor="middle">6</text>
<text transform="translate(895.0,389.3) scale(0.950,1)" text-anchor="middle">1</text>
<text transform="translate(966.0,405.3) scale(0.950,1)" text-anchor="middle">10</text>
<text transform="translate(964.7,409.3) scale(0.950,1)" text-anchor="middle">4</text>
<text transform="translate(709.7,112.6) scale(0.950,1)" text-anchor="middle">1</text>
<text transform="translate(703.0,145.3) scale(0.950,1)" text-anchor="middle">1</text>
<text transform="translate(720.0,173.6) scale(0.950,1)" text-anchor="middle">1</text>
<text transform="translate(812.0,152.6) scale(0.950,1)" text-anchor="middle">1</text>
<text transform="translate(810.7,159.6) scale(0.950,1)" text-anchor="middle">1</text>
<text transform="translate(1028.7,209.6) scale(0.950,1)" text-anchor="middle">1</text>
<text transform="translate(1023.7,227.6) scale(0.950,1)" text-anchor="middle">1</text>
<text transform="translate(1072.0,277.6) scale(0.950,1)" text-anchor="middle">1</text>
<text transform="translate(1113.0,280.6) scale(0.950,1)" text-anchor="middle">4</text>
<text transform="translate(1125.0,288.6) scale(0.950,1)" text-anchor="middle">9</text>
<text transform="translate(1106.0,319.3) scale(0.950,1)" text-anchor="middle">6</text>
<text transform="translate(1107.0,325.3) scale(0.950,1)" text-anchor="middle">3</text>
<text transform="translate(1107.0,325.6) scale(0.950,1)" text-anchor="middle">1</text>
<text transform="translate(1104.7,352.6) scale(0.950,1)" text-anchor="middle">1</text>
<text transform="translate(557.0,480.6) scale(0.950,1)" text-anchor="middle">17</text>
<text transform="translate(525.7,514.6) scale(0.950,1)" text-anchor="middle">2</text>
<text transform="translate(526.0,514.6) scale(0.950,1)" text-anchor="middle">1</text>
<text transform="translate(635.0,514.6) scale(0.950,1)" text-anchor="middle">2</text>
<text transform="translate(635.0,529.6) scale(0.950,1)" text-anchor="middle">1</text>
<text transform="translate(611.7,568.3) scale(0.950,1)" text-anchor="middle">12</text>
<text transform="translate(620.7,577.3) scale(0.950,1)" text-anchor="middle">9</text>
<text transform="translate(660.7,578.6) scale(0.950,1)" text-anchor="middle">1</text>
<text transform="translate(680.0,583.3) scale(0.950,1)" text-anchor="middle">2</text>
<text transform="translate(727.0,611.3) scale(0.950,1)" text-anchor="middle">3</text>
<text transform="translate(726.0,618.6) scale(0.950,1)" text-anchor="middle">1</text>
<text transform="translate(526.7,672.3) scale(0.950,1)" text-anchor="middle">1</text>
<text transform="translate(538.0,673.6) scale(0.950,1)" text-anchor="middle">11</text>
<text transform="translate(552.0,677.3) scale(0.950,1)" text-anchor="middle">12</text>
<text transform="translate(582.0,688.3) scale(0.950,1)" text-anchor="middle">248</text>
<text transform="translate(481.0,693.6) scale(0.950,1)" text-anchor="middle">5</text>
<text transform="translate(480.0,699.6) scale(0.950,1)" text-anchor="middle">2</text>
<text transform="translate(588.0,714.6) scale(0.950,1)" text-anchor="middle">1</text>
<text transform="translate(587.0,723.6) scale(0.950,1)" text-anchor="middle">4</text>
<text transform="translate(123.5,174.3) scale(0.950,1)" text-anchor="middle">2</text>
<text transform="translate(124.4,174.3) scale(0.950,1)" text-anchor="middle">2</text>
</svg></body></html>
